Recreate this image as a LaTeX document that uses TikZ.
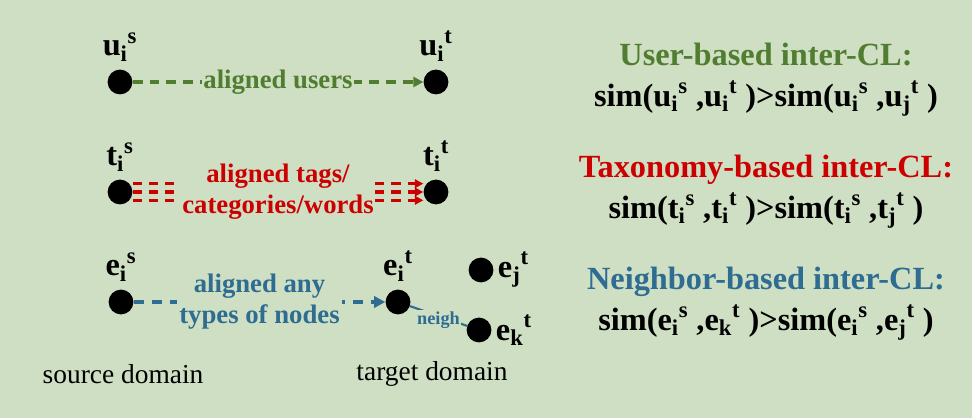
\documentclass[tikz,border=0pt]{standalone}
\usepackage{fontspec}
\setmainfont{Liberation Serif}
\usetikzlibrary{arrows.meta, positioning}
\definecolor{mybg}{RGB}{206,223,195}
\definecolor{mygreen}{RGB}{80,125,48}
\definecolor{myred}{RGB}{204,0,0}
\definecolor{myblue}{RGB}{46,108,145}
\newcommand{\idx}[3]{#1\textsubscript{#2}\textsuperscript{#3}}
\tikzset{
  dot/.style={circle, fill=black, inner sep=0pt, minimum size=0.62cm},
  lbl/.style={font=\fontsize{23}{26}\selectfont\bfseries, inner sep=0pt},
  midtxt/.style={font=\fontsize{19}{22}\selectfont\bfseries, fill=mybg, align=center, inner sep=1pt},
  rule/.style={font=\fontsize{23}{29}\selectfont\bfseries, align=center, inner sep=0pt}
}

\begin{document}
\begin{tikzpicture}[x=0.025cm, y=-0.025cm,
  glink/.style={-{Triangle[length=7pt, width=7pt]}, mygreen, line width=2.3pt, dash pattern=on 7pt off 5pt},
  rlink/.style={-{Triangle[length=6pt, width=6pt]}, myred, line width=2.4pt, dash pattern=on 6.5pt off 5pt},
  blink/.style={-{Triangle[length=8pt, width=8pt]}, myblue, line width=2.3pt, dash pattern=on 7pt off 6pt}
]
\fill[mybg] (0,0) rectangle (972,418);
\useasboundingbox (0,0) rectangle (972,418);

%--- user row ---
\node[dot] (us) at (120, 82) {};
\node[dot] (ut) at (436, 82) {};
\node[lbl, above=0.2cm of us] (uslbl) {\idx{u}{i}{s}};
\node[lbl, above=0.2cm of ut] (utlbl) {\idx{u}{i}{t}};
\draw[glink] (us) -- node[midtxt, text=mygreen] {aligned users} (ut);

%--- taxonomy row ---
\node[dot] (ts) at (120, 192) {};
\node[dot] (tt) at (436, 192) {};
\node[lbl, above=0.2cm of ts] (tslbl) {\idx{t}{i}{s}};
\node[lbl, above=0.2cm of tt] (ttlbl) {\idx{t}{i}{t}};
\foreach \dy in {-5.9pt, 0pt, 5.9pt}
  \draw[rlink] ([yshift=\dy]ts.east) -- ([yshift=\dy]tt.west);
\path (ts) -- node[midtxt, text=myred] {aligned tags/\\categories/words} (tt);

%--- neighbour row ---
\node[dot] (es) at (121, 302) {};
\node[dot] (ei) at (398, 302) {};
\node[dot] (ej) at (481, 270) {};
\node[dot] (ek) at (479, 330) {};
\node[lbl, above=0.2cm of es] (eslbl) {\idx{e}{i}{s}};
\node[lbl, above=0.2cm of ei] (eilbl) {\idx{e}{i}{t}};
\node[lbl, right=0.1cm of ej] (ejlbl) {\idx{e}{j}{t}};
\node[lbl, right=0.1cm of ek] (eklbl) {\idx{e}{k}{t}};
\draw[blink] (es) -- node[midtxt, text=myblue, inner sep=2pt] {aligned any\\types of nodes} (ei);
\draw[myblue, line width=1.5pt] (ei) -- node[pos=0.5, yshift=-3pt, fill=mybg, inner sep=1pt,
  font=\fontsize{13}{15}\selectfont\bfseries, text=myblue] {neigh} (ek);

%--- domains ---
\node[font=\fontsize{19.5}{22}\selectfont] (src) at (123, 374) {source domain};
\node[font=\fontsize{19.5}{22}\selectfont] (tgt) at (432, 374) {target domain};

%--- rules on the right ---
\node[rule] (urule) at (766, 80)
  {{\color{mygreen}User-based inter-CL:}\\sim(\idx{u}{i}{s} ,\idx{u}{i}{t} )>sim(\idx{u}{i}{s} ,\idx{u}{j}{t} )};
\node[rule] (trule) at (766, 192)
  {{\color{myred}Taxonomy-based inter-CL:}\\sim(\idx{t}{i}{s} ,\idx{t}{i}{t} )>sim(\idx{t}{i}{s} ,\idx{t}{j}{t} )};
\node[rule] (erule) at (766, 304)
  {{\color{myblue}Neighbor-based inter-CL:}\\sim(\idx{e}{i}{s} ,\idx{e}{k}{t} )>sim(\idx{e}{i}{s} ,\idx{e}{j}{t} )};
\end{tikzpicture}
\end{document}
